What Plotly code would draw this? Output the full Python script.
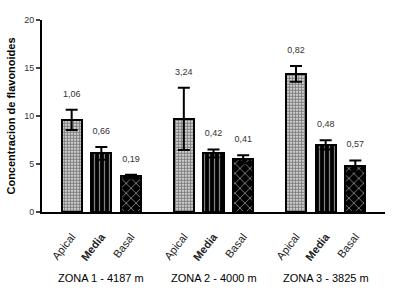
import plotly.graph_objects as go

zones = ["ZONA 1 - 4187 m", "ZONA 2 - 4000 m", "ZONA 3 - 3825 m"]
parts = ["Apical", "Media", "Basal"]
values = {
    "Apical": [9.6, 9.7, 14.4],
    "Media": [6.1, 6.1, 7.0],
    "Basal": [3.7, 5.5, 4.8],
}
errors = {
    "Apical": [1.06, 3.24, 0.82],
    "Media": [0.66, 0.42, 0.48],
    "Basal": [0.19, 0.41, 0.57],
}
labels = {
    "Apical": ["1,06", "3,24", "0,82"],
    "Media": ["0,66", "0,42", "0,48"],
    "Basal": ["0,19", "0,41", "0,57"],
}
y_ticks = [0, 5, 10, 15, 20]

group_step = 3.78
patterns = {
    "Apical": dict(shape=".", fgcolor="black", bgcolor="white", size=3, solidity=0.7),
    "Media": dict(shape="|", fgcolor="white", bgcolor="black", size=5, solidity=0.25),
    "Basal": dict(shape="x", fgcolor="white", bgcolor="black", size=7, solidity=0.25),
}

fig = go.Figure()
tickvals, ticktext = [], []
for i, p in enumerate(parts):
    xs = [g * group_step + i for g in range(len(zones))]
    fig.add_trace(go.Bar(
        x=xs, y=values[p], width=0.68,
        marker=dict(color="white", line=dict(color="black", width=2), pattern=patterns[p]),
        error_y=dict(type="data", array=errors[p], visible=True, color="black", thickness=2, width=6),
        showlegend=False,
    ))
    fig.add_trace(go.Scatter(
        x=xs, y=[v + e + 1.6 for v, e in zip(values[p], errors[p])],
        mode="text", text=labels[p],
        textfont=dict(family="Liberation Sans", size=9, color="#333"),
        showlegend=False, hoverinfo="skip",
    ))
    for x in xs:
        tickvals.append(x)
        ticktext.append("<b>Media</b>" if p == "Media" else p)

for g, z in enumerate(zones):
    fig.add_annotation(x=g * group_step + 1, y=-0.385, xref="x", yref="paper",
                       text=z, showarrow=False,
                       font=dict(family="Liberation Sans", size=11, color="black"))

fig.update_layout(
    width=416, height=296,
    margin=dict(l=42, r=31, t=20, b=84, autoexpand=False),
    plot_bgcolor="white", paper_bgcolor="white",
    bargap=0,
    font=dict(family="Liberation Sans", color="black"),
)
fig.update_xaxes(
    range=[-1, 2 * group_step + 3], tickmode="array", tickvals=tickvals, ticktext=ticktext,
    tickangle=-52, tickfont=dict(size=11, color="#222"), showline=True, linecolor="black",
    linewidth=2, showgrid=False, zeroline=False, ticks="outside", ticklen=12, tickcolor="rgba(0,0,0,0)",
    automargin=False,
)
fig.update_yaxes(
    range=[0, 20], tickvals=y_ticks, ticks="outside", ticklen=4, tickwidth=2,
    showline=True, linecolor="black", linewidth=2, showgrid=False, zeroline=False,
    tickfont=dict(size=9, color="#333"), automargin=False,
    title=dict(text="<b>Concentracion de flavonoides</b>", font=dict(size=11), standoff=6),
)
fig.write_html("out.html", config={"displayModeBar": False},
               post_script="document.body.style.margin='0';")
